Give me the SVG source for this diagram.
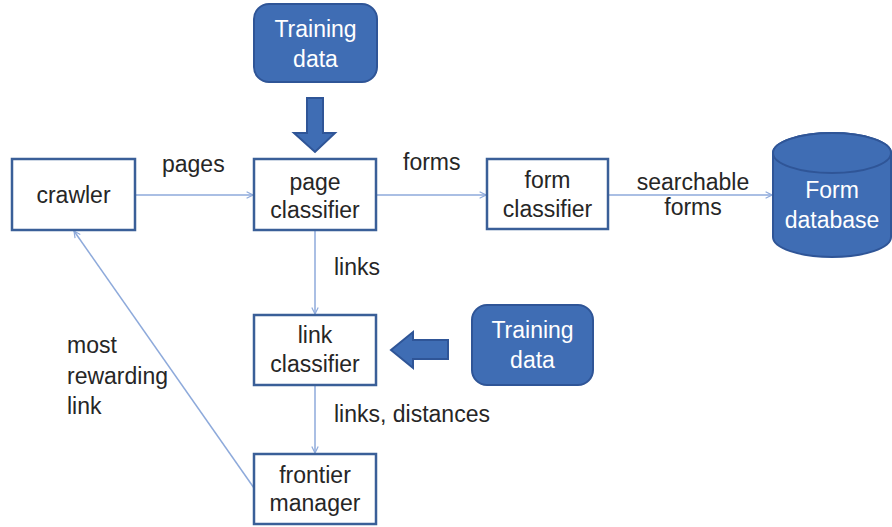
<svg xmlns="http://www.w3.org/2000/svg" width="892" height="527" viewBox="0 0 892 527">
<defs>
<style>
.box{fill:#ffffff;stroke:#3a5f98;stroke-width:2.5}
.dark{fill:#3f6db4;stroke:#2f5597;stroke-width:2}
.t{font-family:"Liberation Sans",Arial,sans-serif;font-size:23px;fill:#262626;text-anchor:middle}
.tl{font-family:"Liberation Sans",Arial,sans-serif;font-size:23px;fill:#262626}
.w{font-family:"Liberation Sans",Arial,sans-serif;font-size:23px;fill:#ffffff;text-anchor:middle}
.c{fill:none;stroke:#8eaadb;stroke-width:1.5}
</style>
<marker id="ah" viewBox="0 0 10 10" refX="9" refY="5" markerWidth="8" markerHeight="10" markerUnits="userSpaceOnUse" orient="auto">
<path d="M1,1 L9,5 L1,9" fill="none" stroke="#8eaadb" stroke-width="1.5"/>
</marker>
</defs>
<rect width="892" height="527" fill="#ffffff"/>
<g id="connectors">
<line class="c" x1="135" y1="195" x2="253" y2="195" marker-end="url(#ah)"/>
<line class="c" x1="376" y1="195" x2="486" y2="195" marker-end="url(#ah)"/>
<line class="c" x1="608" y1="195" x2="772" y2="195" marker-end="url(#ah)"/>
<line class="c" x1="315" y1="230" x2="315" y2="314" marker-end="url(#ah)"/>
<line class="c" x1="315" y1="385" x2="315" y2="453" marker-end="url(#ah)"/>
<line class="c" x1="254" y1="488" x2="74" y2="231" marker-end="url(#ah)"/>
<path class="dark" d="M307,98 L323,98 L323,133 L335,133 L315,152 L294,133 L307,133 Z"/>
<path class="dark" d="M448,340 L448,359 L413,359 L413,368 L391,350 L413,332 L413,340 Z"/>
<text class="tl" x="162" y="172">pages</text>
<text class="tl" x="403" y="170">forms</text>
<text class="t" x="693" y="190">searchable</text>
<text class="t" x="693" y="215">forms</text>
<text class="tl" x="334" y="275">links</text>
<text class="tl" x="334" y="422">links, distances</text>
<text class="tl" x="67" y="353">most</text>
<text class="tl" x="67" y="384">rewarding</text>
<text class="tl" x="67" y="414">link</text>
</g>
<g id="crawler">
<rect class="box" x="12" y="159" width="123" height="71"/>
<text class="t" x="73.5" y="203">crawler</text>
</g>
<g id="page-classifier">
<rect class="box" x="254" y="159" width="122" height="71"/>
<text class="t" x="315" y="190">page</text>
<text class="t" x="315" y="218">classifier</text>
</g>
<g id="form-classifier">
<rect class="box" x="487" y="159" width="121" height="70"/>
<text class="t" x="547.5" y="188">form</text>
<text class="t" x="547.5" y="217">classifier</text>
</g>
<g id="link-classifier">
<rect class="box" x="254" y="315" width="122" height="70"/>
<text class="t" x="315" y="343">link</text>
<text class="t" x="315" y="372">classifier</text>
</g>
<g id="frontier-manager">
<rect class="box" x="254" y="454" width="122" height="70"/>
<text class="t" x="315" y="483">frontier</text>
<text class="t" x="315" y="511">manager</text>
</g>
<g id="training-data-1">
<rect class="dark" x="254" y="4" width="123" height="78" rx="15"/>
<text class="w" x="315.5" y="37">Training</text>
<text class="w" x="315.5" y="67">data</text>
</g>
<g id="training-data-2">
<rect class="dark" x="472" y="305" width="121" height="80" rx="15"/>
<text class="w" x="532.5" y="338">Training</text>
<text class="w" x="532.5" y="368">data</text>
</g>
<g id="form-database">
<path class="dark" d="M773,153 L773,237 A59,20 0 0 0 891,237 L891,153 A59,20 0 0 0 773,153 Z"/>
<ellipse class="dark" cx="832" cy="153" rx="59" ry="20"/>
<text class="w" x="832" y="198">Form</text>
<text class="w" x="832" y="228">database</text>
</g>
</svg>
